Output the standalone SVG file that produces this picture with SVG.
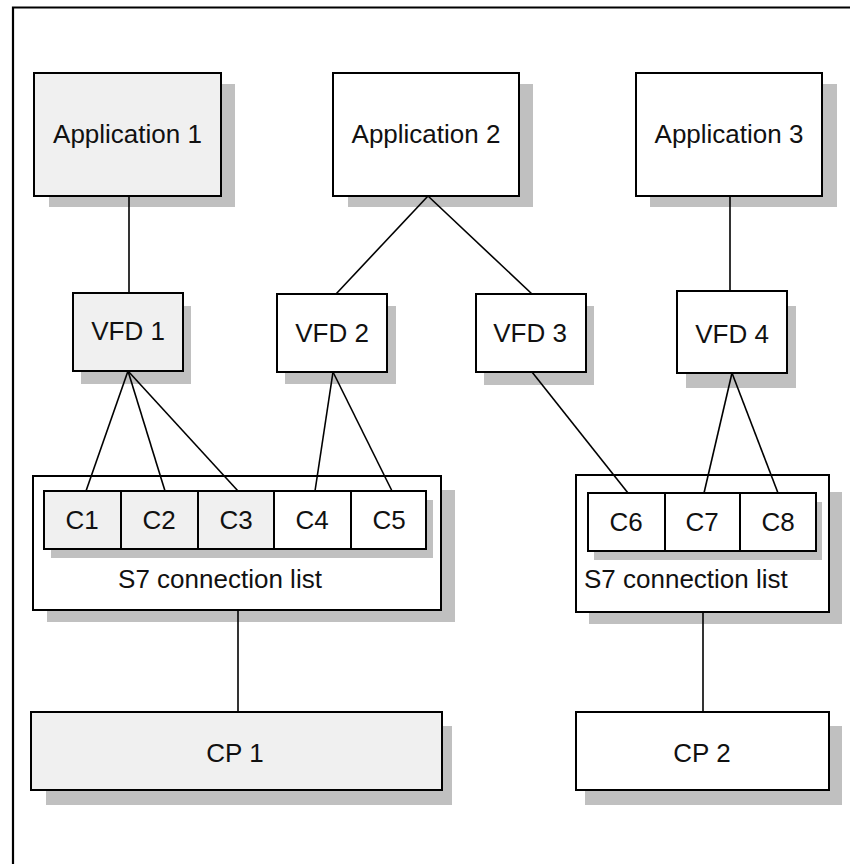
<svg xmlns="http://www.w3.org/2000/svg" width="850" height="864" viewBox="0 0 850 864">
  <style>
    .shadow { fill: #c0c0c0; stroke: none; }
    .box { fill: #ffffff; stroke: #000000; stroke-width: 2; }
    .box.grey { fill: #f0f0f0; }
    .label { font-family: "Liberation Sans", Arial, sans-serif; font-size: 26px; fill: #111111; text-anchor: middle; }
    .wire { stroke: #000000; stroke-width: 1.6; fill: none; }
  </style>

  <rect width="850" height="864" fill="#ffffff"/>
  <!-- page frame (only top and left edges fall inside the sheet) -->
  <path d="M13,864 V7.5 H850" fill="none" stroke="#000000" stroke-width="2.2"/>

  <g id="app1">
    <rect class="shadow" x="49" y="84" width="186" height="123"/>
    <rect class="box grey" x="34" y="73" width="187" height="123"/>
    <text class="label" x="127.5" y="143">Application 1</text>
  </g>
  <g id="app2">
    <rect class="shadow" x="348" y="84" width="185" height="123"/>
    <rect class="box" x="333" y="73" width="186" height="123"/>
    <text class="label" x="426" y="143">Application 2</text>
  </g>
  <g id="app3">
    <rect class="shadow" x="650" y="84" width="187" height="123"/>
    <rect class="box" x="636" y="73" width="186" height="123"/>
    <text class="label" x="729" y="143">Application 3</text>
  </g>

  <g id="vfd1">
    <rect class="shadow" x="81" y="306" width="110" height="78"/>
    <rect class="box grey" x="73" y="293" width="110" height="78"/>
    <text class="label" x="128" y="340">VFD 1</text>
  </g>
  <g id="vfd2">
    <rect class="shadow" x="285" y="306" width="111" height="78"/>
    <rect class="box" x="277" y="294" width="110" height="78"/>
    <text class="label" x="332" y="342">VFD 2</text>
  </g>
  <g id="vfd3">
    <rect class="shadow" x="484" y="306" width="110" height="79"/>
    <rect class="box" x="476" y="294" width="110" height="78"/>
    <text class="label" x="530" y="342">VFD 3</text>
  </g>
  <g id="vfd4">
    <rect class="shadow" x="686" y="306" width="110" height="82"/>
    <rect class="box" x="677" y="291" width="110" height="82"/>
    <text class="label" x="732" y="343">VFD 4</text>
  </g>

  <g id="s7list1">
    <rect class="shadow" x="47" y="490" width="408" height="132"/>
    <rect class="box" x="33" y="476" width="408" height="134"/>
    <rect class="shadow" x="51" y="500" width="382" height="58"/>
    <rect class="box grey" x="44" y="491" width="77" height="58"/>
    <rect class="box grey" x="121" y="491" width="77" height="58"/>
    <rect class="box grey" x="198" y="491" width="76" height="58"/>
    <rect class="box" x="274" y="491" width="77" height="58"/>
    <rect class="box" x="351" y="491" width="75" height="58"/>
    <text class="label" x="82" y="529">C1</text>
    <text class="label" x="159" y="529">C2</text>
    <text class="label" x="236" y="529">C3</text>
    <text class="label" x="312" y="529">C4</text>
    <text class="label" x="389" y="529">C5</text>
    <text class="label" x="220" y="588">S7 connection list</text>
  </g>

  <g id="s7list2">
    <rect class="shadow" x="589" y="492" width="253" height="132"/>
    <rect class="box" x="576" y="475" width="253" height="137"/>
    <rect class="shadow" x="594" y="502" width="228" height="58"/>
    <rect class="box" x="588" y="493" width="77" height="58"/>
    <rect class="box" x="665" y="493" width="75" height="58"/>
    <rect class="box" x="740" y="493" width="76" height="58"/>
    <text class="label" x="626" y="531">C6</text>
    <text class="label" x="702" y="531">C7</text>
    <text class="label" x="778" y="531">C8</text>
    <text class="label" x="584" y="588" style="text-anchor:start">S7 connection list</text>
  </g>

  <g id="cp1">
    <rect class="shadow" x="46" y="726" width="406" height="79"/>
    <rect class="box grey" x="31" y="712" width="411" height="78"/>
    <text class="label" x="235" y="762">CP 1</text>
  </g>
  <g id="cp2">
    <rect class="shadow" x="585" y="726" width="257" height="79"/>
    <rect class="box" x="576" y="712" width="253" height="78"/>
    <text class="label" x="702" y="762">CP 2</text>
  </g>

  <!-- connectors, drawn over the drop shadows -->
  <g id="connectors" class="wire">
    <line x1="129" y1="196" x2="129" y2="293"/>
    <line x1="428" y1="196" x2="336" y2="294"/>
    <line x1="428" y1="196" x2="532" y2="294"/>
    <line x1="730" y1="196" x2="730" y2="291"/>
    <line x1="128" y1="371" x2="86" y2="491"/>
    <line x1="128" y1="371" x2="165" y2="491"/>
    <line x1="128" y1="371" x2="238" y2="491"/>
    <line x1="333" y1="372" x2="315" y2="491"/>
    <line x1="333" y1="372" x2="392" y2="491"/>
    <line x1="532" y1="372" x2="628" y2="493"/>
    <line x1="732" y1="373" x2="704" y2="493"/>
    <line x1="732" y1="373" x2="778" y2="493"/>
    <line x1="238" y1="610" x2="238" y2="712"/>
    <line x1="703" y1="612" x2="703" y2="712"/>
  </g>
</svg>
